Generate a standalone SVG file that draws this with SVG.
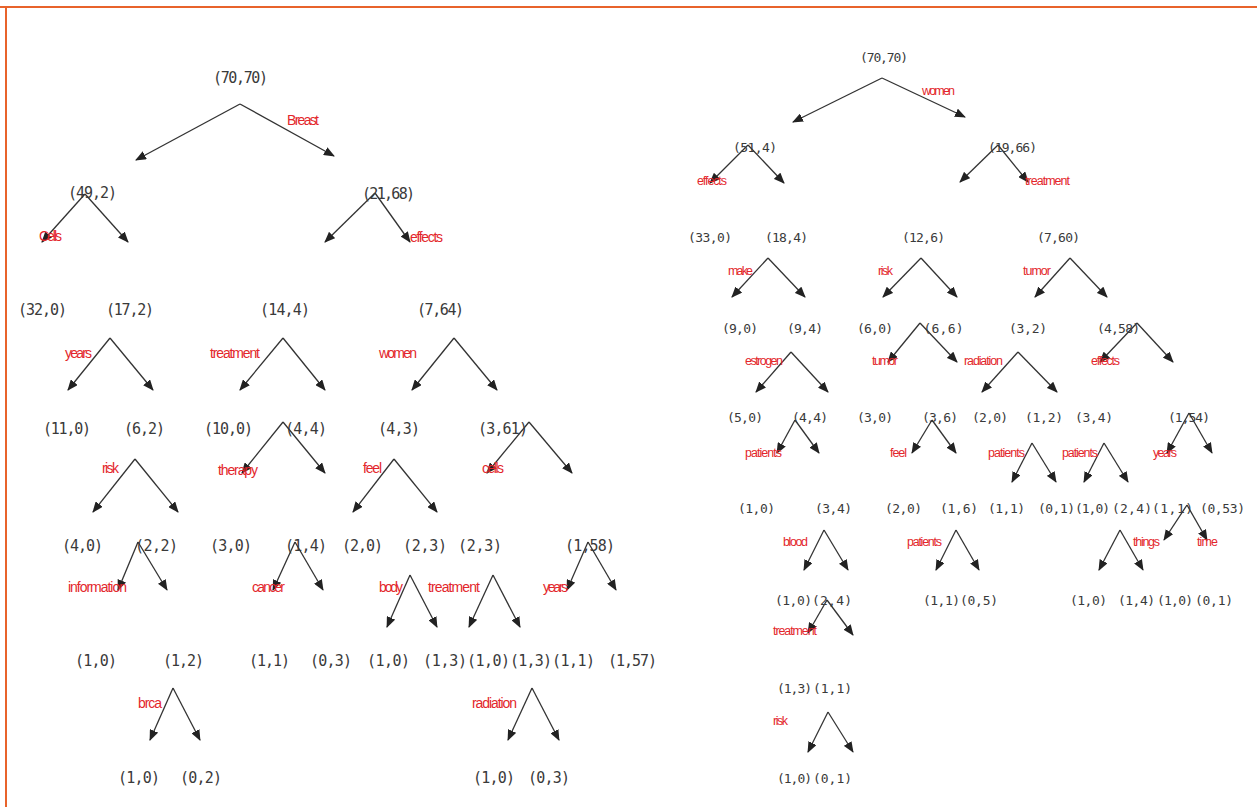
<svg xmlns="http://www.w3.org/2000/svg" width="1257" height="807" viewBox="0 0 1257 807">
<style>
.n{font-family:"DejaVu Sans Mono","Liberation Mono",monospace;font-size:15px;fill:#3a3a3a;text-anchor:middle}
.nr{font-family:"DejaVu Sans Mono","Liberation Mono",monospace;font-size:13px;fill:#3a3a3a;text-anchor:middle}
.l{font-family:"Liberation Sans",Arial,sans-serif;font-size:14px;fill:#e3262b;text-anchor:middle}
.lr{font-family:"Liberation Sans",Arial,sans-serif;font-size:12.5px;fill:#e3262b;text-anchor:middle}
.e{stroke:#333;stroke-width:1.3;fill:none;marker-end:url(#ah)}
.b{stroke:#e8632b;stroke-width:2;fill:none}
</style>
<defs>
<marker id="ah" markerUnits="userSpaceOnUse" markerWidth="11" markerHeight="9" refX="10" refY="4.5" orient="auto">
<path d="M0,0 L11,4.5 L0,9 z" fill="#222"/>
</marker>
</defs>
<rect width="1257" height="807" fill="#fff"/>
<path class="b" d="M0,7 H1257 M6,7 V807"/>

<g id="connectors">
<path class="e" d="M240,104 L136,160"/><path class="e" d="M240,104 L334,156"/>
<path class="e" d="M85,194 L42,242"/><path class="e" d="M85,194 L128,242"/>
<path class="e" d="M375,193 L325,242"/><path class="e" d="M375,193 L410,242"/>
<path class="e" d="M110,338 L68,390"/><path class="e" d="M110,338 L153,390"/>
<path class="e" d="M283,338 L240,390"/><path class="e" d="M283,338 L325,390"/>
<path class="e" d="M454,338 L412,390"/><path class="e" d="M454,338 L497,390"/>
<path class="e" d="M135,459 L93,512"/><path class="e" d="M135,459 L178,512"/>
<path class="e" d="M283,422 L242,473"/><path class="e" d="M283,422 L325,473"/>
<path class="e" d="M394,459 L353,512"/><path class="e" d="M394,459 L437,512"/>
<path class="e" d="M529,422 L487,473"/><path class="e" d="M529,422 L572,473"/>
<path class="e" d="M138,542 L118,590"/><path class="e" d="M138,542 L167,590"/>
<path class="e" d="M295,542 L273,590"/><path class="e" d="M295,542 L323,590"/>
<path class="e" d="M410,575 L387,627"/><path class="e" d="M410,575 L437,627"/>
<path class="e" d="M493,575 L469,627"/><path class="e" d="M493,575 L520,627"/>
<path class="e" d="M588,542 L567,590"/><path class="e" d="M588,542 L616,590"/>
<path class="e" d="M173,688 L150,740"/><path class="e" d="M173,688 L200,740"/>
<path class="e" d="M532,688 L508,740"/><path class="e" d="M532,688 L559,740"/>

<path class="e" d="M882,78 L793,122"/><path class="e" d="M882,78 L965,117"/>
<path class="e" d="M748,145 L710,183"/><path class="e" d="M748,145 L784,183"/>
<path class="e" d="M998,145 L960,182"/><path class="e" d="M998,145 L1028,182"/>
<path class="e" d="M768,258 L732,297"/><path class="e" d="M768,258 L805,297"/>
<path class="e" d="M921,258 L883,297"/><path class="e" d="M921,258 L957,297"/>
<path class="e" d="M1070,258 L1035,297"/><path class="e" d="M1070,258 L1107,297"/>
<path class="e" d="M791,352 L756,392"/><path class="e" d="M791,352 L828,392"/>
<path class="e" d="M920,323 L888,362"/><path class="e" d="M920,323 L957,362"/>
<path class="e" d="M1018,352 L982,392"/><path class="e" d="M1018,352 L1057,392"/>
<path class="e" d="M1137,323 L1100,362"/><path class="e" d="M1137,323 L1173,362"/>
<path class="e" d="M795,420 L777,453"/><path class="e" d="M795,420 L819,453"/>
<path class="e" d="M932,420 L912,453"/><path class="e" d="M932,420 L956,453"/>
<path class="e" d="M1032,443 L1012,482"/><path class="e" d="M1032,443 L1056,482"/>
<path class="e" d="M1104,443 L1084,482"/><path class="e" d="M1104,443 L1128,482"/>
<path class="e" d="M1189,413 L1167,453"/><path class="e" d="M1189,413 L1212,453"/>
<path class="e" d="M824,530 L804,570"/><path class="e" d="M824,530 L848,570"/>
<path class="e" d="M956,530 L936,570"/><path class="e" d="M956,530 L979,570"/>
<path class="e" d="M1120,530 L1099,570"/><path class="e" d="M1120,530 L1143,570"/>
<path class="e" d="M1187,505 L1164,540"/><path class="e" d="M1187,505 L1207,540"/>
<path class="e" d="M827,600 L808,633"/><path class="e" d="M827,600 L853,635"/>
<path class="e" d="M828,712 L808,752"/><path class="e" d="M828,712 L853,752"/>
</g>

<g id="labels">
<text class="l" x="303" y="125" textLength="32">Breast</text>
<text class="l" x="50.5" y="241" textLength="23">Cells</text>
<text class="l" x="426.5" y="242" textLength="33">effects</text>
<text class="l" x="78.5" y="358" textLength="27">years</text>
<text class="l" x="235" y="358" textLength="50">treatment</text>
<text class="l" x="398" y="358" textLength="38">women</text>
<text class="l" x="110.5" y="473" textLength="17">risk</text>
<text class="l" x="238" y="475" textLength="40">therapy</text>
<text class="l" x="372.5" y="473" textLength="19">feel</text>
<text class="l" x="493" y="473" textLength="22">cells</text>
<text class="l" x="97.5" y="592" textLength="59">information</text>
<text class="l" x="268.5" y="592" textLength="33">cancer</text>
<text class="l" x="391" y="592" textLength="24">body</text>
<text class="l" x="454" y="592" textLength="52">treatment</text>
<text class="l" x="555.5" y="592" textLength="25">years</text>
<text class="l" x="150" y="708" textLength="24">brca</text>
<text class="l" x="494.5" y="708" textLength="45">radiation</text>

<text class="lr" x="938.5" y="94.5" textLength="33">women</text>
<text class="lr" x="712" y="184.5" textLength="30">effects</text>
<text class="lr" x="1047.5" y="184.5" textLength="45">treatment</text>
<text class="lr" x="740.5" y="274.5" textLength="25">make</text>
<text class="lr" x="885.5" y="274.5" textLength="15">risk</text>
<text class="lr" x="1037" y="274.5" textLength="28">tumor</text>
<text class="lr" x="764" y="364.5" textLength="38">estrogen</text>
<text class="lr" x="885" y="364.5" textLength="26">tumor</text>
<text class="lr" x="983.5" y="364.5" textLength="39">radiation</text>
<text class="lr" x="1105.5" y="364.5" textLength="29">effects</text>
<text class="lr" x="763.5" y="456.5" textLength="37">patients</text>
<text class="lr" x="898.5" y="456.5" textLength="17">feel</text>
<text class="lr" x="1006.5" y="456.5" textLength="37">patients</text>
<text class="lr" x="1080" y="456.5" textLength="36">patients</text>
<text class="lr" x="1165" y="456.5" textLength="24">years</text>
<text class="lr" x="795.5" y="545.5" textLength="25">blood</text>
<text class="lr" x="924.5" y="545.5" textLength="35">patients</text>
<text class="lr" x="1146.5" y="545.5" textLength="27">things</text>
<text class="lr" x="1207.5" y="545.5" textLength="21">time</text>
<text class="lr" x="795" y="634.5" textLength="44">treatment</text>
<text class="lr" x="780.5" y="724.5" textLength="15">risk</text>
</g>

<g id="left-tree">
<g id="L1"><text class="n" x="240.5" y="82.5" textLength="55">(70,70)</text></g>
<g id="L2a"><text class="n" x="92.5" y="197.5" textLength="49">(49,2)</text></g>
<g id="L2b"><text class="n" x="388.5" y="198.5" textLength="53">(21,68)</text></g>
<g id="L3a"><text class="n" x="42.5" y="314.5" textLength="49">(32,0)</text></g>
<g id="L3b"><text class="n" x="130" y="314.5" textLength="48">(17,2)</text></g>
<g id="L3c"><text class="n" x="285" y="314.5" textLength="50">(14,4)</text></g>
<g id="L3d"><text class="n" x="440.5" y="314.5" textLength="47">(7,64)</text></g>
<g id="L4a"><text class="n" x="67" y="433.5" textLength="48">(11,0)</text></g>
<g id="L4b"><text class="n" x="144.5" y="433.5" textLength="41">(6,2)</text></g>
<g id="L4c"><text class="n" x="228.5" y="433.5" textLength="49">(10,0)</text></g>
<g id="L4d"><text class="n" x="306" y="433.5" textLength="42">(4,4)</text></g>
<g id="L4e"><text class="n" x="399" y="433.5" textLength="42">(4,3)</text></g>
<g id="L4f"><text class="n" x="503" y="433.5" textLength="50">(3,61)</text></g>
<g id="L5a"><text class="n" x="82.5" y="550.5" textLength="41">(4,0)</text></g>
<g id="L5b"><text class="n" x="156.5" y="550.5" textLength="43">(2,2)</text></g>
<g id="L5c"><text class="n" x="231" y="550.5" textLength="42">(3,0)</text></g>
<g id="L5d"><text class="n" x="306" y="550.5" textLength="42">(1,4)</text></g>
<g id="L5e"><text class="n" x="362.5" y="550.5" textLength="41">(2,0)</text></g>
<g id="L5f"><text class="n" x="425" y="550.5" textLength="44">(2,3)</text></g>
<g id="L5g"><text class="n" x="480" y="550.5" textLength="44">(2,3)</text></g>
<g id="L5h"><text class="n" x="590" y="550.5" textLength="50">(1,58)</text></g>
<g id="L6a"><text class="n" x="96" y="665.5" textLength="42">(1,0)</text></g>
<g id="L6b"><text class="n" x="183.5" y="665.5" textLength="41">(1,2)</text></g>
<g id="L6c"><text class="n" x="269.5" y="665.5" textLength="41">(1,1)</text></g>
<g id="L6d"><text class="n" x="331" y="665.5" textLength="42">(0,3)</text></g>
<g id="L6e"><text class="n" x="388.5" y="665.5" textLength="43">(1,0)</text></g>
<g id="L6f"><text class="n" x="445" y="665.5" textLength="44">(1,3)</text></g>
<g id="L6g"><text class="n" x="488.5" y="665.5" textLength="43">(1,0)</text></g>
<g id="L6h"><text class="n" x="531" y="665.5" textLength="42">(1,3)</text></g>
<g id="L6i"><text class="n" x="573.5" y="665.5" textLength="43">(1,1)</text></g>
<g id="L6j"><text class="n" x="632.5" y="665.5" textLength="49">(1,57)</text></g>
<g id="L7a"><text class="n" x="139" y="782.5" textLength="42">(1,0)</text></g>
<g id="L7b"><text class="n" x="201" y="782.5" textLength="42">(0,2)</text></g>
<g id="L7c"><text class="n" x="494" y="782.5" textLength="42">(1,0)</text></g>
<g id="L7d"><text class="n" x="549" y="782.5" textLength="42">(0,3)</text></g>
</g>

<g id="right-tree">
<g id="R1"><text class="nr" x="884" y="61.5" textLength="48">(70,70)</text></g>
<g id="R2a"><text class="nr" x="755" y="151.5" textLength="44">(51,4)</text></g>
<g id="R2b"><text class="nr" x="1012.5" y="151.5" textLength="49">(19,66)</text></g>
<g id="R3a"><text class="nr" x="710" y="241.5" textLength="44">(33,0)</text></g>
<g id="R3b"><text class="nr" x="786.5" y="241.5" textLength="43">(18,4)</text></g>
<g id="R3c"><text class="nr" x="923.5" y="241.5" textLength="43">(12,6)</text></g>
<g id="R3d"><text class="nr" x="1058.5" y="241.5" textLength="43">(7,60)</text></g>
<g id="R4a"><text class="nr" x="740" y="332.5" textLength="36">(9,0)</text></g>
<g id="R4b"><text class="nr" x="805" y="332.5" textLength="36">(9,4)</text></g>
<g id="R4c"><text class="nr" x="875" y="332.5" textLength="36">(6,0)</text></g>
<g id="R4d"><text class="nr" x="943.5" y="332.5" textLength="40">(6,6)</text></g>
<g id="R4e"><text class="nr" x="1028" y="332.5" textLength="38">(3,2)</text></g>
<g id="R4f"><text class="nr" x="1118.5" y="332.5" textLength="43">(4,58)</text></g>
<g id="R5a"><text class="nr" x="745" y="421.5" textLength="36">(5,0)</text></g>
<g id="R5b"><text class="nr" x="810" y="421.5" textLength="36">(4,4)</text></g>
<g id="R5c"><text class="nr" x="875" y="421.5" textLength="36">(3,0)</text></g>
<g id="R5d"><text class="nr" x="940" y="421.5" textLength="36">(3,6)</text></g>
<g id="R5e"><text class="nr" x="990" y="421.5" textLength="36">(2,0)</text></g>
<g id="R5f"><text class="nr" x="1044" y="421.5" textLength="38">(1,2)</text></g>
<g id="R5g"><text class="nr" x="1094" y="421.5" textLength="38">(3,4)</text></g>
<g id="R5h"><text class="nr" x="1189" y="421.5" textLength="42">(1,54)</text></g>
<g id="R6a"><text class="nr" x="756.5" y="512.5" textLength="37">(1,0)</text></g>
<g id="R6b"><text class="nr" x="833.5" y="512.5" textLength="37">(3,4)</text></g>
<g id="R6c"><text class="nr" x="903.5" y="512.5" textLength="37">(2,0)</text></g>
<g id="R6d"><text class="nr" x="959" y="512.5" textLength="38">(1,6)</text></g>
<g id="R6e"><text class="nr" x="1006.5" y="512.5" textLength="37">(1,1)</text></g>
<g id="R6f"><text class="nr" x="1056.5" y="512.5" textLength="37">(0,1)</text></g>
<g id="R6g"><text class="nr" x="1092.5" y="512.5" textLength="35">(1,0)</text></g>
<g id="R6h"><text class="nr" x="1132" y="512.5" textLength="40">(2,4)</text></g>
<g id="R6i"><text class="nr" x="1172.5" y="512.5" textLength="41">(1,1)</text></g>
<g id="R6j"><text class="nr" x="1222.5" y="512.5" textLength="45">(0,53)</text></g>
<g id="R7a"><text class="nr" x="793.5" y="604.5" textLength="37">(1,0)</text></g>
<g id="R7b"><text class="nr" x="832" y="604.5" textLength="40">(2,4)</text></g>
<g id="R7c"><text class="nr" x="941.5" y="604.5" textLength="37">(1,1)</text></g>
<g id="R7d"><text class="nr" x="979" y="604.5" textLength="38">(0,5)</text></g>
<g id="R7e"><text class="nr" x="1088.5" y="604.5" textLength="37">(1,0)</text></g>
<g id="R7f"><text class="nr" x="1136.5" y="604.5" textLength="37">(1,4)</text></g>
<g id="R7g"><text class="nr" x="1175" y="604.5" textLength="36">(1,0)</text></g>
<g id="R7h"><text class="nr" x="1214" y="604.5" textLength="38">(0,1)</text></g>
<g id="R8a"><text class="nr" x="794.5" y="692.5" textLength="35">(1,3)</text></g>
<g id="R8b"><text class="nr" x="832.5" y="692.5" textLength="39">(1,1)</text></g>
<g id="R9a"><text class="nr" x="794.5" y="782.5" textLength="35">(1,0)</text></g>
<g id="R9b"><text class="nr" x="832.5" y="782.5" textLength="39">(0,1)</text></g>
</g>
</svg>
